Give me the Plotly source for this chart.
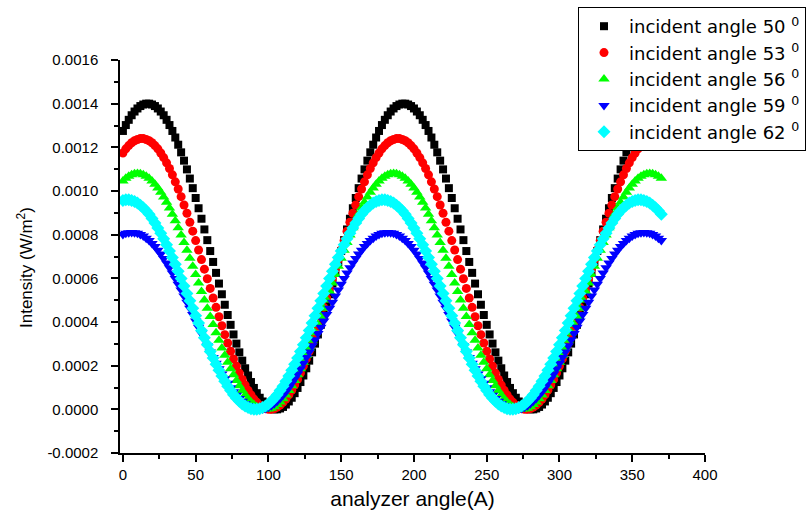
import plotly.graph_objects as go

# analyzer angle (degrees), one marker every 2 degrees from 0 to 370
angle = list(range(0, 372, 2))

series_names = [
    "incident angle 50 <sup>0</sup>",
    "incident angle 53 <sup>0</sup>",
    "incident angle 56 <sup>0</sup>",
    "incident angle 59 <sup>0</sup>",
    "incident angle 62 <sup>0</sup>",
]

i50 = [
    0.001275, 0.001302, 0.001326, 0.001347, 0.001364, 0.001378, 0.001389, 0.001396, 0.001400,
    0.001400, 0.001396, 0.001389, 0.001378, 0.001364, 0.001347, 0.001326, 0.001302, 0.001275, 0.001245,
    0.001212, 0.001177, 0.001139, 0.001099, 0.001057, 0.001013, 0.000968, 0.000921, 0.000873, 0.000824,
    0.000775, 0.000725, 0.000675, 0.000625, 0.000576, 0.000527, 0.000479, 0.000432, 0.000387, 0.000343,
    0.000301, 0.000261, 0.000223, 0.000188, 0.000155, 0.000125, 0.000098, 0.000074, 0.000053, 0.000036,
    0.000022, 0.000011, 0.000004, 0.000000,
    0.000000, 0.000004, 0.000011, 0.000022, 0.000036, 0.000053, 0.000074, 0.000098, 0.000125, 0.000155,
    0.000188, 0.000223, 0.000261, 0.000301, 0.000343, 0.000387, 0.000432, 0.000479, 0.000527, 0.000576,
    0.000625, 0.000675, 0.000725, 0.000775, 0.000824, 0.000873, 0.000921, 0.000968, 0.001013, 0.001057,
    0.001099, 0.001139, 0.001177, 0.001212, 0.001245, 0.001275, 0.001302, 0.001326, 0.001347, 0.001364,
    0.001378, 0.001389, 0.001396, 0.001400,
    0.001400, 0.001396, 0.001389, 0.001378, 0.001364, 0.001347, 0.001326, 0.001302, 0.001275, 0.001245,
    0.001212, 0.001177, 0.001139, 0.001099, 0.001057, 0.001013, 0.000968, 0.000921, 0.000873, 0.000824,
    0.000775, 0.000725, 0.000675, 0.000625, 0.000576, 0.000527, 0.000479, 0.000432, 0.000387, 0.000343,
    0.000301, 0.000261, 0.000223, 0.000188, 0.000155, 0.000125, 0.000098, 0.000074, 0.000053, 0.000036,
    0.000022, 0.000011, 0.000004, 0.000000,
    0.000000, 0.000004, 0.000011, 0.000022, 0.000036, 0.000053, 0.000074, 0.000098, 0.000125, 0.000155,
    0.000188, 0.000223, 0.000261, 0.000301, 0.000343, 0.000387, 0.000432, 0.000479, 0.000527, 0.000576,
    0.000625, 0.000675, 0.000725, 0.000775, 0.000824, 0.000873, 0.000921, 0.000968, 0.001013, 0.001057,
    0.001099, 0.001139, 0.001177, 0.001212, 0.001245, 0.001275, 0.001302, 0.001326, 0.001347, 0.001364,
    0.001378, 0.001389, 0.001396, 0.001400,
    0.001400,
]

i53 = [
    0.001174, 0.001193, 0.001208, 0.001221, 0.001230, 0.001236, 0.001240,
    0.001240, 0.001236, 0.001230, 0.001221, 0.001208, 0.001193, 0.001174, 0.001153, 0.001129, 0.001103,
    0.001074, 0.001042, 0.001009, 0.000974, 0.000936, 0.000898, 0.000857, 0.000816, 0.000773, 0.000730,
    0.000686, 0.000642, 0.000598, 0.000554, 0.000510, 0.000467, 0.000424, 0.000383, 0.000342, 0.000304,
    0.000266, 0.000231, 0.000198, 0.000166, 0.000137, 0.000111, 0.000087, 0.000066, 0.000047, 0.000032,
    0.000019, 0.000010, 0.000004, 0.000000,
    0.000000, 0.000004, 0.000010, 0.000019, 0.000032, 0.000047, 0.000066, 0.000087, 0.000111, 0.000137,
    0.000166, 0.000198, 0.000231, 0.000266, 0.000304, 0.000342, 0.000383, 0.000424, 0.000467, 0.000510,
    0.000554, 0.000598, 0.000642, 0.000686, 0.000730, 0.000773, 0.000816, 0.000857, 0.000898, 0.000936,
    0.000974, 0.001009, 0.001042, 0.001074, 0.001103, 0.001129, 0.001153, 0.001174, 0.001193, 0.001208,
    0.001221, 0.001230, 0.001236, 0.001240,
    0.001240, 0.001236, 0.001230, 0.001221, 0.001208, 0.001193, 0.001174, 0.001153, 0.001129, 0.001103,
    0.001074, 0.001042, 0.001009, 0.000974, 0.000936, 0.000898, 0.000857, 0.000816, 0.000773, 0.000730,
    0.000686, 0.000642, 0.000598, 0.000554, 0.000510, 0.000467, 0.000424, 0.000383, 0.000342, 0.000304,
    0.000266, 0.000231, 0.000198, 0.000166, 0.000137, 0.000111, 0.000087, 0.000066, 0.000047, 0.000032,
    0.000019, 0.000010, 0.000004, 0.000000,
    0.000000, 0.000004, 0.000010, 0.000019, 0.000032, 0.000047, 0.000066, 0.000087, 0.000111, 0.000137,
    0.000166, 0.000198, 0.000231, 0.000266, 0.000304, 0.000342, 0.000383, 0.000424, 0.000467, 0.000510,
    0.000554, 0.000598, 0.000642, 0.000686, 0.000730, 0.000773, 0.000816, 0.000857, 0.000898, 0.000936,
    0.000974, 0.001009, 0.001042, 0.001074, 0.001103, 0.001129, 0.001153, 0.001174, 0.001193, 0.001208,
    0.001221, 0.001230, 0.001236, 0.001240,
    0.001240, 0.001236, 0.001230,
]

i56 = [
    0.001046, 0.001058, 0.001068, 0.001075, 0.001079, 0.001080,
    0.001079, 0.001075, 0.001068, 0.001058, 0.001046, 0.001031, 0.001014, 0.000994, 0.000972, 0.000948,
    0.000922, 0.000894, 0.000864, 0.000832, 0.000799, 0.000764, 0.000729, 0.000692, 0.000655, 0.000617,
    0.000579, 0.000540, 0.000501, 0.000463, 0.000425, 0.000388, 0.000351, 0.000316, 0.000281, 0.000248,
    0.000216, 0.000186, 0.000158, 0.000132, 0.000108, 0.000086, 0.000066, 0.000049, 0.000034, 0.000022,
    0.000012, 0.000005, 0.000001, 0.000000,
    0.000001, 0.000005, 0.000012, 0.000022, 0.000034, 0.000049, 0.000066, 0.000086, 0.000108, 0.000132,
    0.000158, 0.000186, 0.000216, 0.000248, 0.000281, 0.000316, 0.000351, 0.000388, 0.000425, 0.000463,
    0.000501, 0.000540, 0.000579, 0.000617, 0.000655, 0.000692, 0.000729, 0.000764, 0.000799, 0.000832,
    0.000864, 0.000894, 0.000922, 0.000948, 0.000972, 0.000994, 0.001014, 0.001031, 0.001046, 0.001058,
    0.001068, 0.001075, 0.001079, 0.001080,
    0.001079, 0.001075, 0.001068, 0.001058, 0.001046, 0.001031, 0.001014, 0.000994, 0.000972, 0.000948,
    0.000922, 0.000894, 0.000864, 0.000832, 0.000799, 0.000764, 0.000729, 0.000692, 0.000655, 0.000617,
    0.000579, 0.000540, 0.000501, 0.000463, 0.000425, 0.000388, 0.000351, 0.000316, 0.000281, 0.000248,
    0.000216, 0.000186, 0.000158, 0.000132, 0.000108, 0.000086, 0.000066, 0.000049, 0.000034, 0.000022,
    0.000012, 0.000005, 0.000001, 0.000000,
    0.000001, 0.000005, 0.000012, 0.000022, 0.000034, 0.000049, 0.000066, 0.000086, 0.000108, 0.000132,
    0.000158, 0.000186, 0.000216, 0.000248, 0.000281, 0.000316, 0.000351, 0.000388, 0.000425, 0.000463,
    0.000501, 0.000540, 0.000579, 0.000617, 0.000655, 0.000692, 0.000729, 0.000764, 0.000799, 0.000832,
    0.000864, 0.000894, 0.000922, 0.000948, 0.000972, 0.000994, 0.001014, 0.001031, 0.001046, 0.001058,
    0.001068, 0.001075, 0.001079, 0.001080,
    0.001079, 0.001075, 0.001068, 0.001058,
]

i59 = [
    0.000801, 0.000806, 0.000809, 0.000810,
    0.000809, 0.000806, 0.000801, 0.000794, 0.000784, 0.000773, 0.000760, 0.000746, 0.000729, 0.000711,
    0.000691, 0.000670, 0.000648, 0.000624, 0.000599, 0.000573, 0.000547, 0.000519, 0.000491, 0.000463,
    0.000434, 0.000405, 0.000376, 0.000347, 0.000319, 0.000291, 0.000263, 0.000237, 0.000211, 0.000186,
    0.000162, 0.000140, 0.000119, 0.000099, 0.000081, 0.000064, 0.000050, 0.000037, 0.000026, 0.000016,
    0.000009, 0.000004, 0.000001, 0.000000,
    0.000001, 0.000004, 0.000009, 0.000016, 0.000026, 0.000037, 0.000050, 0.000064, 0.000081, 0.000099,
    0.000119, 0.000140, 0.000162, 0.000186, 0.000211, 0.000237, 0.000263, 0.000291, 0.000319, 0.000347,
    0.000376, 0.000405, 0.000434, 0.000463, 0.000491, 0.000519, 0.000547, 0.000573, 0.000599, 0.000624,
    0.000648, 0.000670, 0.000691, 0.000711, 0.000729, 0.000746, 0.000760, 0.000773, 0.000784, 0.000794,
    0.000801, 0.000806, 0.000809, 0.000810,
    0.000809, 0.000806, 0.000801, 0.000794, 0.000784, 0.000773, 0.000760, 0.000746, 0.000729, 0.000711,
    0.000691, 0.000670, 0.000648, 0.000624, 0.000599, 0.000573, 0.000547, 0.000519, 0.000491, 0.000463,
    0.000434, 0.000405, 0.000376, 0.000347, 0.000319, 0.000291, 0.000263, 0.000237, 0.000211, 0.000186,
    0.000162, 0.000140, 0.000119, 0.000099, 0.000081, 0.000064, 0.000050, 0.000037, 0.000026, 0.000016,
    0.000009, 0.000004, 0.000001, 0.000000,
    0.000001, 0.000004, 0.000009, 0.000016, 0.000026, 0.000037, 0.000050, 0.000064, 0.000081, 0.000099,
    0.000119, 0.000140, 0.000162, 0.000186, 0.000211, 0.000237, 0.000263, 0.000291, 0.000319, 0.000347,
    0.000376, 0.000405, 0.000434, 0.000463, 0.000491, 0.000519, 0.000547, 0.000573, 0.000599, 0.000624,
    0.000648, 0.000670, 0.000691, 0.000711, 0.000729, 0.000746, 0.000760, 0.000773, 0.000784, 0.000794,
    0.000801, 0.000806, 0.000809, 0.000810,
    0.000809, 0.000806, 0.000801, 0.000794, 0.000784, 0.000773,
]

i62 = [
    0.000957, 0.000960,
    0.000960, 0.000957, 0.000952, 0.000945, 0.000935, 0.000923, 0.000909, 0.000893, 0.000874, 0.000854,
    0.000831, 0.000807, 0.000781, 0.000754, 0.000725, 0.000695, 0.000664, 0.000632, 0.000599, 0.000565,
    0.000531, 0.000497, 0.000463, 0.000429, 0.000395, 0.000361, 0.000328, 0.000296, 0.000265, 0.000235,
    0.000206, 0.000179, 0.000153, 0.000129, 0.000106, 0.000086, 0.000067, 0.000051, 0.000037, 0.000025,
    0.000015, 0.000008, 0.000003, 0.000000,
    0.000000, 0.000003, 0.000008, 0.000015, 0.000025, 0.000037, 0.000051, 0.000067, 0.000086, 0.000106,
    0.000129, 0.000153, 0.000179, 0.000206, 0.000235, 0.000265, 0.000296, 0.000328, 0.000361, 0.000395,
    0.000429, 0.000463, 0.000497, 0.000531, 0.000565, 0.000599, 0.000632, 0.000664, 0.000695, 0.000725,
    0.000754, 0.000781, 0.000807, 0.000831, 0.000854, 0.000874, 0.000893, 0.000909, 0.000923, 0.000935,
    0.000945, 0.000952, 0.000957, 0.000960,
    0.000960, 0.000957, 0.000952, 0.000945, 0.000935, 0.000923, 0.000909, 0.000893, 0.000874, 0.000854,
    0.000831, 0.000807, 0.000781, 0.000754, 0.000725, 0.000695, 0.000664, 0.000632, 0.000599, 0.000565,
    0.000531, 0.000497, 0.000463, 0.000429, 0.000395, 0.000361, 0.000328, 0.000296, 0.000265, 0.000235,
    0.000206, 0.000179, 0.000153, 0.000129, 0.000106, 0.000086, 0.000067, 0.000051, 0.000037, 0.000025,
    0.000015, 0.000008, 0.000003, 0.000000,
    0.000000, 0.000003, 0.000008, 0.000015, 0.000025, 0.000037, 0.000051, 0.000067, 0.000086, 0.000106,
    0.000129, 0.000153, 0.000179, 0.000206, 0.000235, 0.000265, 0.000296, 0.000328, 0.000361, 0.000395,
    0.000429, 0.000463, 0.000497, 0.000531, 0.000565, 0.000599, 0.000632, 0.000664, 0.000695, 0.000725,
    0.000754, 0.000781, 0.000807, 0.000831, 0.000854, 0.000874, 0.000893, 0.000909, 0.000923, 0.000935,
    0.000945, 0.000952, 0.000957, 0.000960,
    0.000960, 0.000957, 0.000952, 0.000945, 0.000935, 0.000923, 0.000909, 0.000893,
]

x_ticks = [0, 50, 100, 150, 200, 250, 300, 350, 400]
x_minor = [25, 75, 125, 175, 225, 275, 325, 375]
y_ticks = [-0.0002, 0.0, 0.0002, 0.0004, 0.0006, 0.0008, 0.0010, 0.0012, 0.0014, 0.0016]
y_tick_labels = ["-0.0002", "0.0000", "0.0002", "0.0004", "0.0006", "0.0008",
                 "0.0010", "0.0012", "0.0014", "0.0016"]
y_minor = [-0.0001, 0.0001, 0.0003, 0.0005, 0.0007, 0.0009, 0.0011, 0.0013, 0.0015]

series = [i50, i53, i56, i59, i62]
for nm, s in zip(series_names, series):
    if len(s) != len(angle):
        print("length mismatch", nm, len(s))

colors = ["#000000", "#ff0000", "#00ff00", "#0000ff", "#00ffff"]
symbols = ["square", "circle", "triangle-up", "triangle-down", "diamond"]
sizes = [8, 9, 10, 10, 10]

fig = go.Figure()
for nm, s, c, sym, sz in zip(series_names, series, colors, symbols, sizes):
    fig.add_trace(go.Scatter(
        x=angle[:len(s)], y=s, mode="markers", name=nm,
        marker=dict(color=c, symbol=sym, size=sz, line=dict(width=0)),
    ))

FONT = "Liberation Sans, Arial, sans-serif"
fig.update_layout(
    width=809, height=516,
    margin=dict(l=120, r=104, t=60, b=63, autoexpand=False),
    paper_bgcolor="white", plot_bgcolor="white",
    font=dict(family=FONT, color="black", size=15),
    showlegend=True,
    legend=dict(
        x=(578 - 120) / 585, y=(453 - 7) / 393, xanchor="left", yanchor="top",
        bgcolor="white", bordercolor="black", borderwidth=1,
        font=dict(family="DejaVu Sans, Liberation Sans, sans-serif", size=18, color="black"),
        itemwidth=40, tracegroupgap=0,
    ),
    xaxis=dict(
        range=[-2, 400], tickmode="array", tickvals=x_ticks,
        ticks="outside", ticklen=7, tickwidth=1.5, tickcolor="black",
        showline=True, linecolor="black", linewidth=1.5,
        showgrid=False, zeroline=False,
        tickfont=dict(size=15),
        minor=dict(tickmode="array", tickvals=x_minor,
                   ticks="outside", ticklen=4, tickwidth=1.5, tickcolor="black", showgrid=False),
        title=dict(text="analyzer angle(A)", font=dict(size=21), standoff=10),
    ),
    yaxis=dict(
        range=[-0.0002, 0.0016], tickmode="array", tickvals=y_ticks, ticktext=y_tick_labels,
        ticks="outside", ticklen=7, tickwidth=1.5, tickcolor="black",
        showline=True, linecolor="black", linewidth=1.5,
        showgrid=False, zeroline=False,
        tickfont=dict(size=15), ticklabelstandoff=10,
        minor=dict(tickmode="array", tickvals=y_minor,
                   ticks="outside", ticklen=4, tickwidth=1.5, tickcolor="black", showgrid=False),
    ),
    annotations=[dict(
        text="Intensity (W/m<sup>2</sup>)", textangle=-90,
        xref="paper", yref="paper", x=(25 - 120) / 585, y=(453 - 268) / 393,
        xanchor="center", yanchor="middle", showarrow=False,
        font=dict(family=FONT, size=17, color="black"),
    )],
)

fig.write_html("out.html")
